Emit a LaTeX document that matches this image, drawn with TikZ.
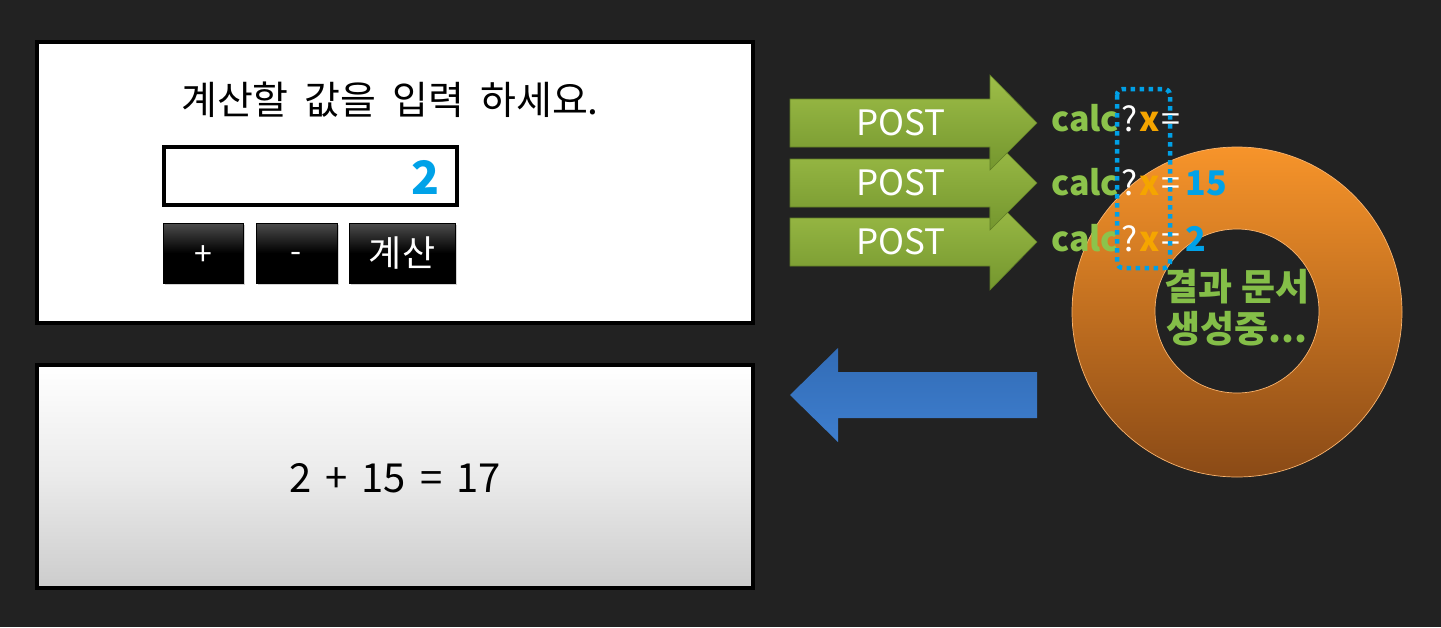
\documentclass[tikz,border=0pt]{standalone}
\usepackage{fontspec}
\setmainfont{Noto Sans CJK KR}
\usetikzlibrary{shadows}
\definecolor{bg}{RGB}{34,34,34}
\definecolor{arrgreenT}{RGB}{158,190,72}
\definecolor{arrgreenB}{RGB}{116,150,46}
\definecolor{arrgreenD}{RGB}{96,126,38}
\definecolor{calcgreen}{RGB}{140,195,75}
\definecolor{xorange}{RGB}{245,165,0}
\definecolor{valblue}{RGB}{0,162,232}
\definecolor{dotblue}{RGB}{0,160,230}
\definecolor{donutT}{RGB}{247,148,42}
\definecolor{donutB}{RGB}{138,74,22}
\definecolor{donutEdge}{RGB}{250,180,110}
\definecolor{donutText}{RGB}{132,190,72}
\definecolor{backblueT}{RGB}{50,108,182}
\definecolor{backblueB}{RGB}{62,126,206}
\definecolor{resgray}{RGB}{204,204,204}
\newcommand{\fsz}[1]{\fontsize{#1}{#1}\selectfont}
\newcommand{\gap}[1]{\hspace{#1pt}}
\tikzset{
  panel/.style={draw=black, line width=4pt},
  btnbox/.style={draw=black, line width=1pt, top color=black!70!white, bottom color=black, middle color=black,
     drop shadow={shadow xshift=2pt, shadow yshift=-2pt, opacity=0.35}},
  btntext/.style={text=white, inner sep=0pt, anchor=center},
  greenarrow/.style={top color=arrgreenT, bottom color=arrgreenB, draw=arrgreenD, line width=0.6pt},
  posttext/.style={text=white, font=\fsz{35}, inner sep=0pt},
  calctext/.style={anchor=west, inner sep=0pt, font=\bfseries\fsz{34}},
  donuttext/.style={text=donutText, font=\bfseries\fsz{37}, inner sep=0pt},
}
\begin{document}
\begin{tikzpicture}[x=1pt,y=-1pt]
\fill[bg] (0,0) rectangle (1441,627);
\useasboundingbox (0,0) rectangle (1441,627);

% ---- top input panel
\path[panel, fill=white] (37,42) rectangle (753,323);
\node[inner sep=0pt, font=\fsz{39}] (title) at (390,100) {계산할\gap{16}값을\gap{16}입력\gap{16}하세요.};
\path[draw=black, line width=4pt, fill=white] (164,147) rectangle (457,205);
\node[inner sep=0pt, anchor=east, text=valblue, font=\bfseries\fsz{46}] (inval) at (440,177) {2};
\path[btnbox] (163,223) rectangle (243,283);
\path[btnbox] (256,223) rectangle (337,283);
\path[btnbox] (349,223) rectangle (455,283);
\node[btntext, font=\fsz{32}] (plus) at (203,256) {+};
\node[btntext, font=\fsz{32}] (minus) at (296,257) {-};
\node[btntext, font=\fsz{36}] (calcbtn) at (402,253) {계산};

% ---- bottom result panel
\path[panel, top color=white, bottom color=resgray, middle color=white!92!black] (37,365) rectangle (753,588);
\node[inner sep=0pt, font=\fsz{40}] (result) at (395,478) {2\gap{14}+\gap{14}15\gap{14}=\gap{14}17};

% ---- donut
\path[top color=donutT, bottom color=donutB, even odd rule]
  (1237,312) circle[radius=165] (1237,311) circle[radius=82];
\draw[donutEdge, line width=0.7pt] (1237,312) circle[radius=165];
\draw[donutEdge, line width=0.7pt] (1237,311) circle[radius=82];

% ---- green POST arrows
\path[greenarrow] (790,218) -- (990,218) -- (990,195) -- (1037,242) -- (990,290) -- (990,266) -- (790,266) -- cycle;
\path[greenarrow] (790,159) -- (990,159) -- (990,136) -- (1037,183) -- (990,230) -- (990,207) -- (790,207) -- cycle;
\path[greenarrow] (790,99) -- (990,99) -- (990,75) -- (1037,123) -- (990,170) -- (990,147) -- (790,147) -- cycle;
\node[posttext] (post1) at (901,123) {POST};
\node[posttext] (post2) at (901,183) {POST};
\node[posttext] (post3) at (901,242) {POST};

% ---- query strings
\node[calctext] (q1) at (1051,118) {\textcolor{calcgreen}{calc}\gap{2}\textcolor{white}{\mdseries ?}\gap{2}\textcolor{xorange}{x}\gap{2}\textcolor{white}{\mdseries =}};
\node[calctext] (q2) at (1051,182) {\textcolor{calcgreen}{calc}\gap{2}\textcolor{white}{\mdseries ?}\gap{2}\textcolor{xorange}{x}\gap{2}\textcolor{white}{\mdseries =}\gap{5}\textcolor{valblue}{15}};
\node[calctext] (q3) at (1051,238) {\textcolor{calcgreen}{calc}\gap{2}\textcolor{white}{\mdseries ?}\gap{2}\textcolor{xorange}{x}\gap{2}\textcolor{white}{\mdseries =}\gap{5}\textcolor{valblue}{2}};
\draw[dotblue, line width=4.5pt, dash pattern=on 4.5pt off 4.5pt, rounded corners=6pt] (1117,89) rectangle (1170,268);

% ---- donut label
\node[donuttext] (lab1) at (1237,287) {결과 문서};
\node[donuttext] (lab2) at (1237,329) {생성중...};

% ---- blue response arrow
\path[top color=backblueT, bottom color=backblueB] (790,395) -- (838,348) -- (838,372) -- (1037,372) -- (1037,418) -- (838,418) -- (838,442) -- cycle;
\end{tikzpicture}
\end{document}
